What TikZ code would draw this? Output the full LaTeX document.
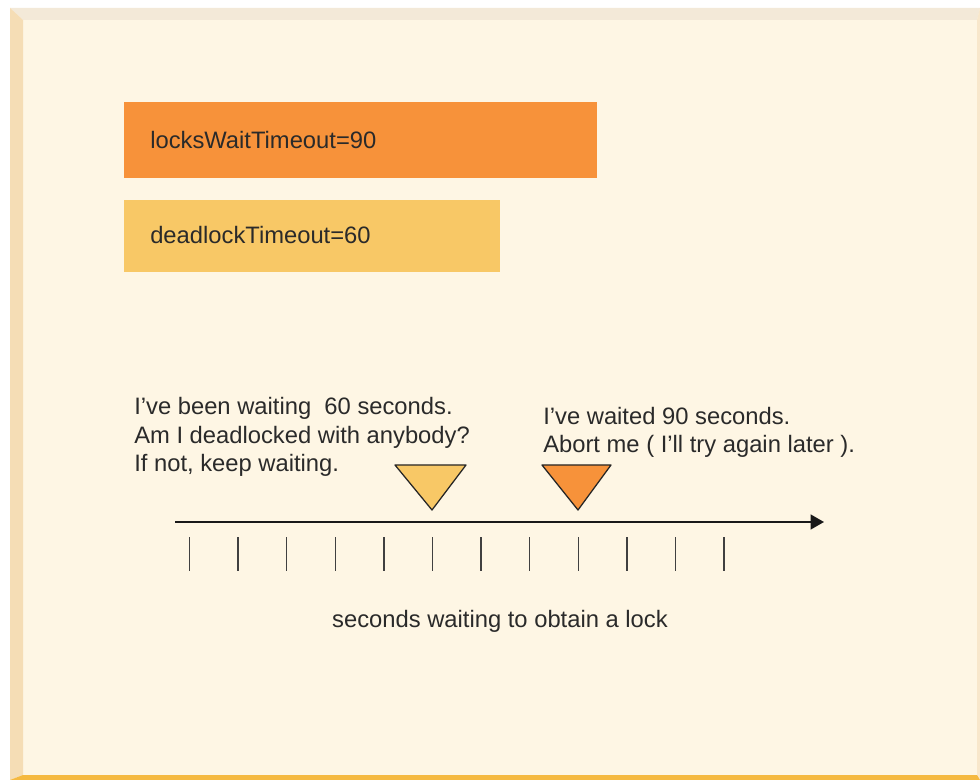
\documentclass[tikz,border=0pt]{standalone}
\usepackage{fontspec}
\setmainfont{Liberation Sans}
\usetikzlibrary{arrows.meta}
\usepackage{xcolor}
\definecolor{panelcream}{HTML}{FEF6E4}
\definecolor{bevelleft}{HTML}{F5DDB5}
\definecolor{beveltop}{HTML}{F3E9D8}
\definecolor{bevelgold}{HTML}{F5B940}
\definecolor{lockorange}{HTML}{F7923A}
\definecolor{deadyellow}{HTML}{F8C866}
\definecolor{inktext}{HTML}{2A2A2A}

\begin{document}
\begin{tikzpicture}[x=0.025cm,y=-0.025cm,
  font=\fontsize{16.9}{20.3}\selectfont,
  bartext/.style={anchor=base west,text=inktext,inner sep=0pt},
  note/.style={anchor=base west,align=left,text=inktext,inner sep=0pt},
  marker/.style={draw=black!85,line width=0.9pt,line join=round},
  tick/.style={black!75,line width=1.1pt}]
  \useasboundingbox (0,0) rectangle (980,780);
  \fill[white] (0,0) rectangle (980,780);
  % Panel with bevelled edges
  \fill[panelcream] (10,8) rectangle (980,780);
  \fill[beveltop] (10,8) -- (980,8) -- (977,20) -- (23,20) -- cycle;
  \fill[bevelleft] (10,8) -- (23,20) -- (23,775) -- (10,780) -- cycle;
  \fill[bevelleft!70] (980,8) -- (980,780) -- (977,775) -- (977,20) -- cycle;
  \fill[bevelgold] (10,780) -- (23,775) -- (977,775) -- (980,780) -- cycle;
  % Timeout bars
  \fill[lockorange] (124,102) rectangle (597,178);
  \fill[deadyellow] (124,200) rectangle (500,272);
  \node[bartext] (locklabel) at (150,149) {locksWaitTimeout=90};
  \node[bartext] (deadlabel) at (150,244) {deadlockTimeout=60};
  % Notes (base = last line)
  \node[note] (firstnote) at (134,472) {I've been waiting\ \ 60 seconds.\\
    Am I deadlocked with anybody?\\If not, keep waiting.};
  \node[note] (secondnote) at (543,453) {I've waited 90 seconds.\\
    Abort me ( I'll try again later ).};
  % Markers
  \fill[deadyellow,marker] (395,465) -- (466,465) -- (432,510) -- cycle;
  \fill[lockorange,marker] (542,465) -- (611,465) -- (578,510) -- cycle;
  % Time axis
  \coordinate (axisstart) at (175,522);
  \coordinate (axisend) at (824,522);
  \draw[-{Triangle[length=9.5pt,width=10.5pt]},line width=1.4pt,black!90]
    (axisstart) -- (axisend);
  \foreach \i in {0,...,11}
    \draw[tick] ({189.5+48.6*\i},537) -- ++(0,34);
  \node[anchor=base,text=inktext,inner sep=0pt] (axislabel) at (500,627)
    {seconds waiting to obtain a lock};
\end{tikzpicture}
\end{document}
